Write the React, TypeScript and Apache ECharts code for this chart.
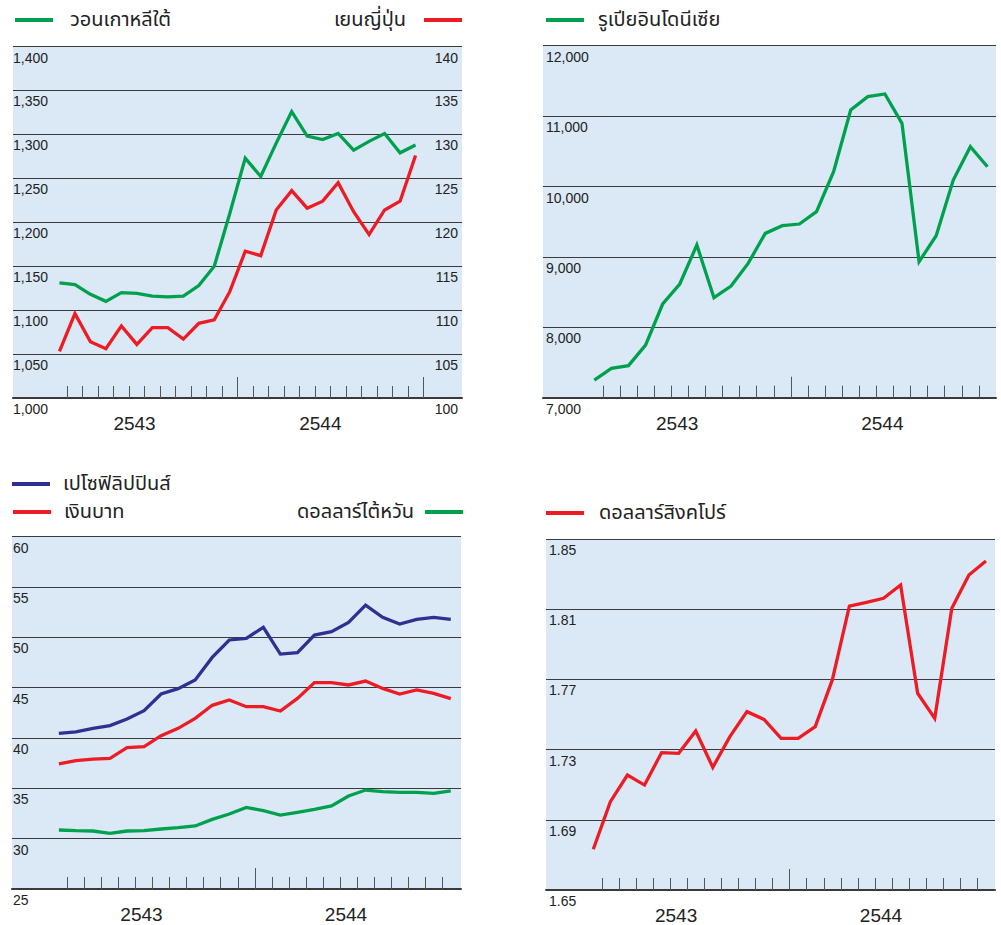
import React, { useEffect, useRef } from 'react';
import * as echarts from 'echarts';

// ---- data ----
const monthIndex = [0, 1, 2, 3, 4, 5, 6, 7, 8, 9, 10, 11, 12, 13, 14, 15, 16, 17, 18, 19, 20, 21, 22, 23];
const monthBoundaries = [0.5, 1.5, 2.5, 3.5, 4.5, 5.5, 6.5, 7.5, 8.5, 9.5, 10.5, 11.5, 12.5, 13.5, 14.5, 15.5, 16.5, 17.5, 18.5, 19.5, 20.5, 21.5, 22.5];
const yearBoundaries = [11.5];
const yearBoundariesTL = [11.5, 23.5];
const yearLabels = ['2543', '2544'];
const yearLabelAt = [4.85, 16.85];

const krw = [1131, 1129, 1118, 1110, 1120, 1119, 1116, 1115, 1116, 1128, 1150, 1210, 1273, 1252, 1290, 1326, 1298, 1294, 1301, 1282, 1292, 1301, 1279, 1288];
const jpy = [105.3, 109.6, 106.4, 105.6, 108.2, 106.1, 108.0, 108.0, 106.7, 108.5, 108.9, 112.1, 116.7, 116.2, 121.4, 123.6, 121.6, 122.4, 124.5, 121.2, 118.6, 121.4, 122.4, 127.6];
const idr = [7251, 7417, 7455, 7748, 8331, 8615, 9169, 8420, 8586, 8908, 9334, 9443, 9467, 9642, 10210, 11086, 11276, 11314, 10897, 8932, 9301, 10092, 10565, 10281];
const php = [40.46, 40.6, 40.96, 41.23, 41.89, 42.72, 44.37, 44.9, 45.76, 48.01, 49.74, 49.9, 51.0, 48.34, 48.48, 50.23, 50.56, 51.49, 53.21, 51.99, 51.32, 51.79, 51.99, 51.79];
const thb = [37.42, 37.75, 37.91, 37.98, 39.04, 39.14, 40.23, 40.96, 41.95, 43.25, 43.78, 43.11, 43.11, 42.68, 43.94, 45.5, 45.5, 45.27, 45.66, 44.93, 44.37, 44.77, 44.44, 43.91];
const twd = [30.86, 30.79, 30.76, 30.53, 30.76, 30.79, 30.96, 31.09, 31.26, 31.92, 32.45, 33.11, 32.78, 32.35, 32.62, 32.91, 33.25, 34.24, 34.83, 34.67, 34.6, 34.6, 34.5, 34.74];
const sgd = [1.6732, 1.7003, 1.7155, 1.7098, 1.7283, 1.7279, 1.7406, 1.7199, 1.7374, 1.7516, 1.7472, 1.7364, 1.7364, 1.7431, 1.7697, 1.8118, 1.8139, 1.8162, 1.8238, 1.7621, 1.7478, 1.8105, 1.8295, 1.8375];

const names = {
  krw: 'วอนเกาหลีใต้',
  jpy: 'เยนญี่ปุ่น',
  idr: 'รูเปียอินโดนีเซีย',
  php: 'เปโซฟิลิปปินส์',
  thb: 'เงินบาท',
  twd: 'ดอลลาร์ไต้หวัน',
  sgd: 'ดอลลาร์สิงคโปร์',
};

// ---- styling / layout ----
const NUM_FONT = '"Liberation Sans", Arial, Helvetica, sans-serif';
const THAI_FONT = '"Noto Sans Thai", "Noto Sans Thai UI", Tahoma, "Liberation Sans", sans-serif';
const GREEN = '#00a14e';
const RED = '#ed1c24';
const BLUE = '#2e3192';
const BG = '#dbe9f6';
const GRIDLINE = '#3a3a3a';

const grids = [
  { left: 13, top: 46.5, width: 449, height: 351.5, xMin: -3, xMax: 26 },
  { left: 543, top: 45.7, width: 453, height: 352, xMin: -3, xMax: 23.5 },
  { left: 12, top: 536.7, width: 449, height: 352.3, xMin: -2.75, xMax: 23.6 },
  { left: 546, top: 539, width: 449, height: 351, xMin: -2.77, xMax: 23.53 },
];

function pairs(vals: number[]) {
  return vals.map((v, i) => [monthIndex[i], v]);
}

function buildOption() {
  const xAxis: any[] = [];
  grids.forEach((g, gi) => {
    xAxis.push({
      type: 'value',
      gridIndex: gi,
      min: g.xMin,
      max: g.xMax,
      position: 'bottom',
      axisLine: { show: true, lineStyle: { color: '#3a3a3a', width: 2 } },
      axisTick: {
        show: true,
        inside: true,
        length: 12,
        customValues: monthBoundaries,
        lineStyle: { color: '#555', width: 1 },
      },
      axisLabel: {
        show: true,
        customValues: yearLabelAt,
        formatter: (v: number) => {
          const k = yearLabelAt.findIndex((p) => Math.abs(p - v) < 0.01);
          return k >= 0 ? yearLabels[k] : '';
        },
        fontSize: 19,
        fontFamily: NUM_FONT,
        color: '#222',
        margin: 16,
      },
      splitLine: { show: false },
    });
    xAxis.push({
      type: 'value',
      gridIndex: gi,
      min: g.xMin,
      max: g.xMax,
      position: 'bottom',
      axisLine: { show: false },
      axisTick: {
        show: true,
        inside: true,
        length: 21,
        customValues: gi === 0 ? yearBoundariesTL : yearBoundaries,
        lineStyle: { color: '#555', width: 1 },
      },
      axisLabel: { show: false },
      splitLine: { show: false },
    });
  });

  const yLabel = (align: string, fmt: (v: number) => string) => ({
    inside: true,
    margin: 0,
    verticalAlign: 'top',
    align,
    padding: [4, 0, 0, 0],
    fontSize: 14,
    fontFamily: NUM_FONT,
    color: '#222',
    formatter: fmt,
  });
  const split = { show: true, lineStyle: { color: GRIDLINE, width: 1 } };
  const comma = (v: number) => Math.round(v).toLocaleString('en-US');

  const yAxis: any[] = [
    {
      type: 'value', gridIndex: 0, min: 1000, max: 1400, interval: 50, position: 'left',
      axisLine: { show: false }, axisTick: { show: false }, splitLine: split,
      axisLabel: yLabel('left', comma),
    },
    {
      type: 'value', gridIndex: 0, min: 100, max: 140, interval: 5, position: 'right',
      axisLine: { show: false }, axisTick: { show: false }, splitLine: { show: false },
      axisLabel: { ...yLabel('right', (v: number) => String(Math.round(v))), margin: 4 },
    },
    {
      type: 'value', gridIndex: 1, min: 7000, max: 12000, interval: 1000, position: 'left',
      axisLine: { show: false }, axisTick: { show: false }, splitLine: split,
      axisLabel: { ...yLabel('left', comma), margin: 3 },
    },
    {
      type: 'value', gridIndex: 2, min: 25, max: 60, interval: 5, position: 'left',
      axisLine: { show: false }, axisTick: { show: false }, splitLine: split,
      axisLabel: { ...yLabel('left', (v: number) => String(Math.round(v))), margin: 1 },
    },
    {
      type: 'value', gridIndex: 3, min: 1.65, max: 1.85, interval: 0.04, position: 'left',
      axisLine: { show: false }, axisTick: { show: false }, splitLine: split,
      axisLabel: { ...yLabel('left', (v: number) => v.toFixed(2)), margin: 3 },
    },
  ];

  const line = (name: string, data: number[], color: string, xi: number, yi: number) => ({
    type: 'line',
    name,
    data: pairs(data),
    xAxisIndex: xi,
    yAxisIndex: yi,
    symbol: 'none',
    color,
    lineStyle: { color, width: 3.3, cap: 'butt', join: 'miter' },
    z: 3,
  });

  const legendBase = {
    orient: 'horizontal',
    padding: 0,
    icon: 'rect',
    itemWidth: 38,
    itemHeight: 4,
    selectedMode: false,
  };
  const lt = (extra: any, gap: number, right = false) => ({
    ...legendBase,
    ...extra,
    textStyle: {
      fontFamily: THAI_FONT,
      fontSize: 20,
      color: '#222',
      padding: right ? [0, gap, 0, 0] : [0, 0, 0, gap],
    },
  });

  return {
    animation: false,
    backgroundColor: '#ffffff',
    grid: grids.map((g) => ({
      left: g.left, top: g.top, width: g.width, height: g.height,
      show: true, backgroundColor: BG, borderWidth: 0,
    })),
    xAxis,
    yAxis,
    legend: [
      lt({ data: [names.krw], left: 15, top: 10 }, 12),
      lt({ data: [names.jpy], right: 539, top: 10, align: 'right' }, 13, true),
      lt({ data: [names.idr], left: 546, top: 10 }, 9),
      lt({ data: [names.php], left: 12, top: 474 }, 8),
      lt({ data: [names.thb], left: 13, top: 502 }, 8),
      lt({ data: [names.twd], right: 538, top: 502, align: 'right' }, 6, true),
      lt({ data: [names.sgd], left: 546, top: 503 }, 10),
    ],
    series: [
      line(names.krw, krw, GREEN, 0, 0),
      line(names.jpy, jpy, RED, 0, 1),
      line(names.idr, idr, GREEN, 2, 2),
      line(names.php, php, BLUE, 4, 3),
      line(names.thb, thb, RED, 4, 3),
      line(names.twd, twd, GREEN, 4, 3),
      line(names.sgd, sgd, RED, 6, 4),
    ],
  };
}

export default function App() {
  const ref = useRef<HTMLDivElement>(null);
  useEffect(() => {
    if (!ref.current) return;
    const chart = echarts.init(ref.current, null, { renderer: 'svg' });
    chart.setOption(buildOption() as any);
    return () => chart.dispose();
  }, []);
  return (
    <div
      ref={ref}
      style={{ position: 'absolute', left: 0, top: 0, width: 1001, height: 925, background: '#fff' }}
    />
  );
}
